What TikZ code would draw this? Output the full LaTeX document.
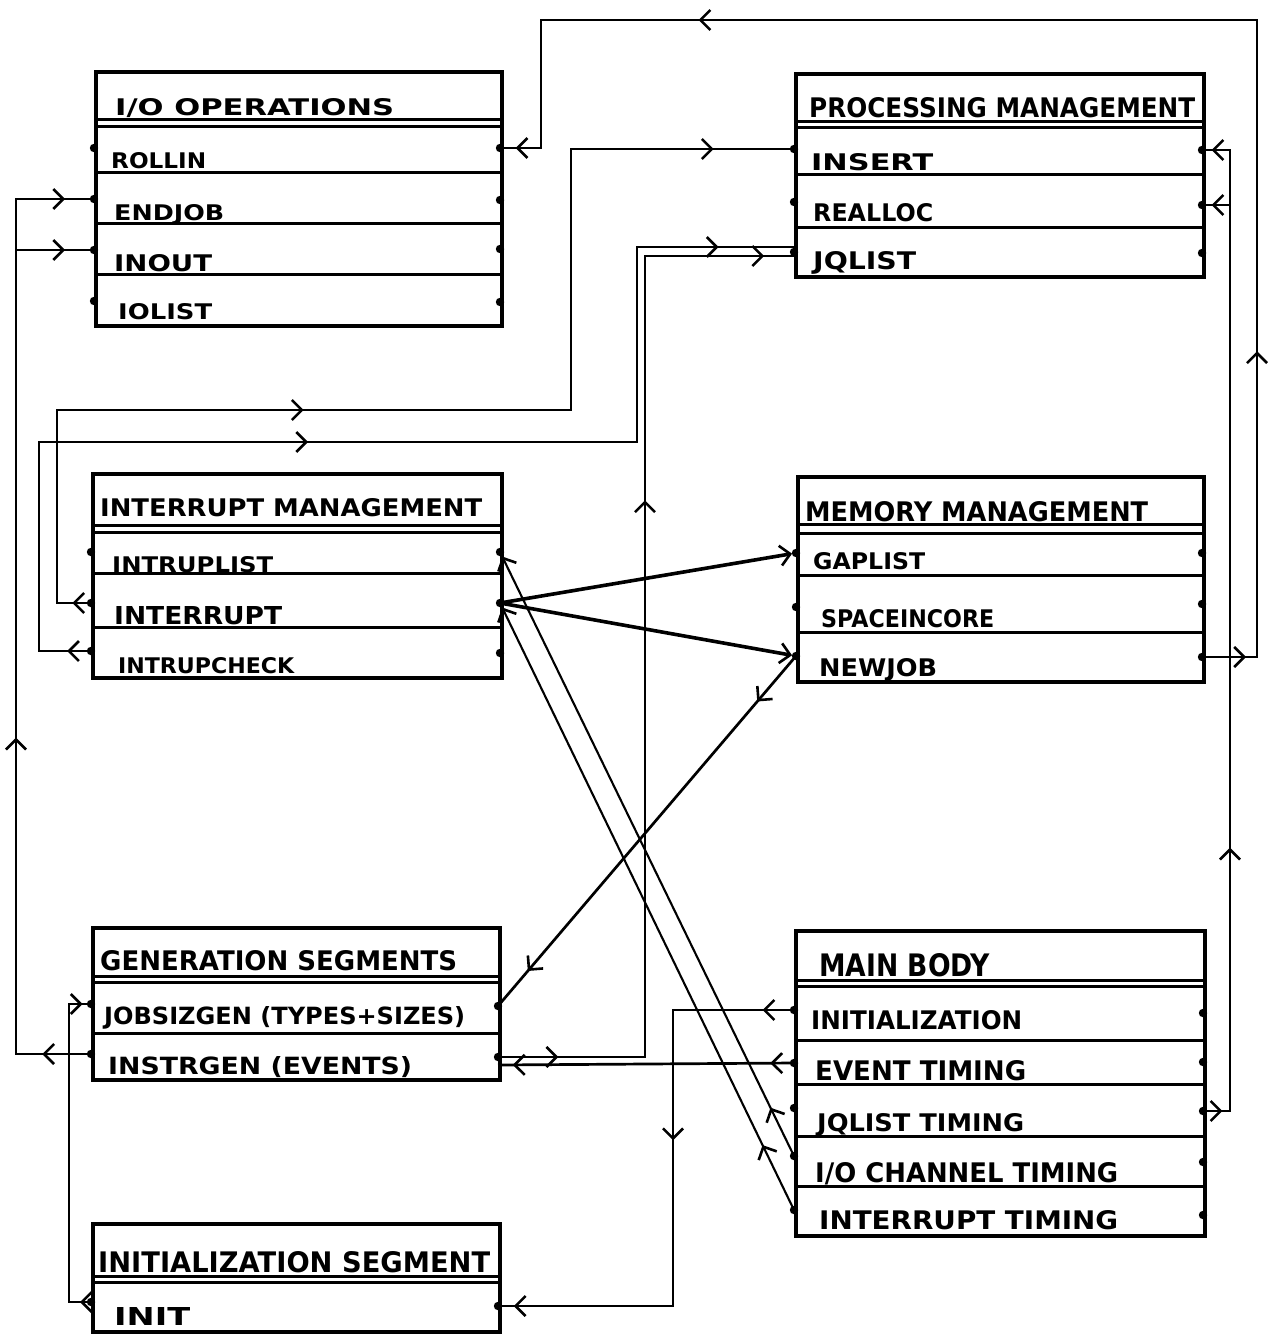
\documentclass[tikz,border=0pt]{standalone}
\usepackage{graphicx}
\usepackage{fontspec}
\setmainfont{DejaVu Sans}
\usetikzlibrary{arrows.meta,decorations.markings}

% label stretched to a given width and cap height, set on its baseline
\newcommand\lbl[6]{\node[lbl] (#1) at (#2,#3) {\resizebox{#4pt}{#5pt}{\bfseries #6}};}

\begin{document}
\begin{tikzpicture}[x=1pt,y=-1pt,
  box/.style={draw, line width=3.6pt, inner sep=0pt, anchor=north west},
  rule/.style={line width=3pt},
  conn/.style={line width=2.7pt},
  heavy/.style={line width=3.6pt},
  fine/.style={line width=2.1pt},
  lbl/.style={inner sep=0pt, anchor=base west},
  barb/.tip={Straight Barb[length=10pt,width=20pt,line width=2.6pt]},
  tip/.style={postaction={decorate,decoration={markings,mark=at position #1 with {\arrow{barb}}}}},
]
\fill[white] (0,0) rectangle (1277,1334);
\useasboundingbox (0,0) rectangle (1277,1334);

% ---------------- boxes ----------------
\node[box, minimum width=406pt, minimum height=254pt] (io) at (94,70) {};
\node[box, minimum width=408pt, minimum height=203pt] (pm) at (794,72) {};
\node[box, minimum width=409pt, minimum height=204pt] (im) at (91,472) {};
\node[box, minimum width=406pt, minimum height=205pt] (mm) at (796,475) {};
\node[box, minimum width=407pt, minimum height=152pt] (gs) at (91,926) {};
\node[box, minimum width=407pt, minimum height=108pt] (is) at (91,1222) {};
\node[box, minimum width=409pt, minimum height=305pt] (mb) at (794,929) {};

% title double rules and row dividers
\foreach \y in {119,126} \draw[rule] (94,\y) -- (500,\y);
\foreach \y in {172,223,274} \draw[rule] (94,\y) -- (500,\y);
\foreach \y in {121,127} \draw[rule] (794,\y) -- (1202,\y);
\foreach \y in {174,227} \draw[rule] (794,\y) -- (1202,\y);
\foreach \y in {525,532} \draw[rule] (91,\y) -- (500,\y);
\foreach \y in {573,627} \draw[rule] (91,\y) -- (500,\y);
\foreach \y in {524,533} \draw[rule] (796,\y) -- (1202,\y);
\foreach \y in {575,632} \draw[rule] (796,\y) -- (1202,\y);
\foreach \y in {976,982} \draw[rule] (91,\y) -- (498,\y);
\draw[rule] (91,1033) -- (498,1033);
\foreach \y in {1276,1282} \draw[rule] (91,\y) -- (498,\y);
\foreach \y in {980,986} \draw[rule] (794,\y) -- (1203,\y);
\foreach \y in {1040,1084,1136,1186} \draw[rule] (794,\y) -- (1203,\y);

% ---------------- labels ----------------
\lbl{io-t}{115}{115}{279}{17}{I/O OPERATIONS}
\lbl{io-r1}{111}{168}{95}{16}{ROLLIN}
\lbl{io-r2}{114}{220}{110}{16}{ENDJOB}
\lbl{io-r3}{114}{271}{98}{17}{INOUT}
\lbl{io-r4}{118}{319}{94}{16}{IOLIST}

\lbl{pm-t}{809}{117}{386}{20}{PROCESSING MANAGEMENT}
\lbl{pm-r1}{811}{170}{122}{17}{INSERT}
\lbl{pm-r2}{813}{221}{120}{18}{REALLOC}
\lbl{pm-r3}{813}{269}{103}{18}{JQLIST}

\lbl{im-t}{100}{516}{382}{18}{INTERRUPT MANAGEMENT}
\lbl{im-r1}{112}{572}{161}{16}{INTRUPLIST}
\lbl{im-r2}{114}{624}{168}{18}{INTERRUPT}
\lbl{im-r3}{118}{673}{176}{16}{INTRUPCHECK}

\lbl{mm-t}{805}{521}{343}{20}{MEMORY MANAGEMENT}
\lbl{mm-r1}{813}{569}{112}{17}{GAPLIST}
\lbl{mm-r2}{821}{627}{173}{18}{SPACEINCORE}
\lbl{mm-r3}{819}{676}{118}{18}{NEWJOB}

\lbl{gs-t}{100}{970}{357}{20}{GENERATION SEGMENTS}
\lbl{gs-r1}{104}{1024}{361}{18}{JOBSIZGEN (TYPES+SIZES)}
\lbl{gs-r2}{108}{1074}{304}{18}{INSTRGEN (EVENTS)}

\lbl{is-t}{98}{1272}{392}{21}{INITIALIZATION SEGMENT}
\lbl{is-r1}{114}{1325}{76}{18}{INIT}

\lbl{mb-t}{819}{976}{171}{23}{MAIN BODY}
\lbl{mb-r1}{811}{1029}{211}{19}{INITIALIZATION}
\lbl{mb-r2}{815}{1080}{211}{20}{EVENT TIMING}
\lbl{mb-r3}{817}{1131}{207}{18}{JQLIST TIMING}
\lbl{mb-r4}{815}{1182}{303}{20}{I/O CHANNEL TIMING}
\lbl{mb-r5}{819}{1229}{299}{19}{INTERRUPT TIMING}

% ---------------- ports ----------------
\coordinate (io-rollin-w) at (94,148);  \coordinate (io-rollin-e) at (500,148);
\coordinate (io-endjob-w) at (94,199);  \coordinate (io-endjob-e) at (500,200);
\coordinate (io-inout-w) at (94,250);   \coordinate (io-inout-e) at (500,249);
\coordinate (io-iolist-w) at (94,301);  \coordinate (io-iolist-e) at (500,302);
\coordinate (pm-insert-w) at (794,149); \coordinate (pm-insert-e) at (1202,150);
\coordinate (pm-realloc-w) at (794,202);\coordinate (pm-realloc-e) at (1202,205);
\coordinate (pm-jqlist-w) at (794,252); \coordinate (pm-jqlist-e) at (1202,253);
\coordinate (pm-jqlist-w1) at (794,247);\coordinate (pm-jqlist-w2) at (794,256);
\coordinate (im-intruplist-w) at (91,552);  \coordinate (im-intruplist-e) at (500,552);
\coordinate (im-interrupt-w) at (91,603);   \coordinate (im-interrupt-e) at (500,603);
\coordinate (im-intrupcheck-w) at (91,651); \coordinate (im-intrupcheck-e) at (500,653);
\coordinate (mm-gaplist-w) at (796,553);    \coordinate (mm-gaplist-e) at (1202,553);
\coordinate (mm-spaceincore-w) at (796,607);\coordinate (mm-spaceincore-e) at (1202,604);
\coordinate (mm-newjob-w) at (796,656);     \coordinate (mm-newjob-e) at (1202,657);
\coordinate (gs-jobsizgen-w) at (91,1004);  \coordinate (gs-jobsizgen-e) at (498,1006);
\coordinate (gs-instrgen-w) at (91,1054);   \coordinate (gs-instrgen-e) at (498,1057);
\coordinate (gs-instrgen-e2) at (498,1065);
\coordinate (is-init-w) at (91,1302);       \coordinate (is-init-e) at (498,1306);
\coordinate (mb-init-w) at (794,1010);      \coordinate (mb-init-e) at (1203,1013);
\coordinate (mb-event-w) at (794,1063);     \coordinate (mb-event-e) at (1203,1062);
\coordinate (mb-jqlist-w) at (794,1108);    \coordinate (mb-jqlist-e) at (1203,1111);
\coordinate (mb-iochan-w) at (794,1156);    \coordinate (mb-iochan-e) at (1203,1162);
\coordinate (mb-intr-w) at (794,1210);      \coordinate (mb-intr-e) at (1203,1215);

\foreach \p in {io-rollin,io-endjob,io-inout,io-iolist,pm-insert,pm-realloc,pm-jqlist,
  im-intruplist,im-interrupt,im-intrupcheck,mm-gaplist,mm-spaceincore,mm-newjob,
  gs-jobsizgen,gs-instrgen,is-init,mb-init,mb-event,mb-jqlist,mb-iochan,mb-intr}
  {\fill (\p-w) circle (4.2pt); \fill (\p-e) circle (4.2pt);}

% ---------------- connectors ----------------
% NEWJOB -> ROLLIN, round the top
\coordinate (c1a) at (1257,657); \coordinate (c1b) at (1257,20);
\coordinate (c1c) at (541,20);   \coordinate (c1d) at (541,148);
\draw[conn] (mm-newjob-e) -- (c1a) -- (c1b) -- (c1c) -- (c1d) -- (io-rollin-e);
\path[tip=0.8] (mm-newjob-e) -- (c1a);
\path[tip=0.48] (c1a) -- (c1b);
\path[tip=0.78] (c1b) -- (c1c);
\path[tip=0.62] (c1d) -- (io-rollin-e);

% JQLIST TIMING -> INSERT, REALLOC
\coordinate (c2a) at (1230,1111); \coordinate (c2b) at (1230,150); \coordinate (c2c) at (1230,205);
\draw[conn] (mb-jqlist-e) -- (c2a) -- (c2b) -- (pm-insert-e);
\draw[conn] (c2c) -- (pm-realloc-e);
\path[tip=0.72] (mb-jqlist-e) -- (c2a);
\path[tip=0.274] (c2a) -- (c2b);
\path[tip=0.66] (c2b) -- (pm-insert-e);
\path[tip=0.66] (c2c) -- (pm-realloc-e);

% INTERRUPT -> INSERT
\coordinate (c3a) at (57,603); \coordinate (c3b) at (57,410);
\coordinate (c3c) at (571,410); \coordinate (c3d) at (571,149);
\draw[conn] (im-interrupt-w) -- (c3a) -- (c3b) -- (c3c) -- (c3d) -- (pm-insert-w);
\path[tip=0.55] (im-interrupt-w) -- (c3a);
\path[tip=0.48] (c3b) -- (c3c);
\path[tip=0.64] (c3d) -- (pm-insert-w);

% INTRUPCHECK -> JQLIST
\coordinate (c4a) at (39,651); \coordinate (c4b) at (39,442);
\coordinate (c4c) at (637,442); \coordinate (c4d) at (637,247);
\draw[conn] (im-intrupcheck-w) -- (c4a) -- (c4b) -- (c4c) -- (c4d) -- (pm-jqlist-w1);
\path[tip=0.46] (im-intrupcheck-w) -- (c4a);
\path[tip=0.45] (c4b) -- (c4c);
\path[tip=0.52] (c4d) -- (pm-jqlist-w1);

% INSTRGEN -> JQLIST
\coordinate (c5a) at (645,1057); \coordinate (c5b) at (645,256);
\draw[conn] (gs-instrgen-e) -- (c5a) -- (c5b) -- (pm-jqlist-w2);
\path[tip=0.41] (gs-instrgen-e) -- (c5a);
\path[tip=0.695] (c5a) -- (c5b);
\path[tip=0.8] (c5b) -- (pm-jqlist-w2);

% INTERRUPT -> GAPLIST, NEWJOB
\draw[heavy,-barb,shorten >=4pt] (im-interrupt-e) -- (mm-gaplist-w);
\draw[heavy,-barb,shorten >=4pt] (im-interrupt-e) -- (mm-newjob-w);

% NEWJOB -> JOBSIZGEN
\draw[conn,tip=0.13,tip=0.9] (mm-newjob-w) -- (gs-jobsizgen-e);

% I/O CHANNEL TIMING -> INTRUPLIST, INTERRUPT TIMING -> INTERRUPT
\draw[fine,tip=0.08,-barb,shorten >=5pt] (mb-iochan-w) -- (im-intruplist-e);
\draw[fine,tip=0.107,-barb,shorten >=5pt] (mb-intr-w) -- (im-interrupt-e);

% INITIALIZATION -> INIT
\coordinate (c11a) at (673,1010); \coordinate (c11b) at (673,1306);
\draw[conn] (mb-init-w) -- (c11a) -- (c11b) -- (is-init-e);
\path[tip=0.26] (mb-init-w) -- (c11a);
\path[tip=0.44] (c11a) -- (c11b);
\path[tip=0.91] (c11b) -- (is-init-e);

% EVENT TIMING -> INSTRGEN
\draw[conn,tip=0.08,tip=0.95] (mb-event-w) -- (gs-instrgen-e2);

% INSTRGEN -> ENDJOB, INOUT
\coordinate (c13a) at (16,1054); \coordinate (c13b) at (16,199); \coordinate (c13c) at (16,250);
\draw[conn] (gs-instrgen-w) -- (c13a) -- (c13b) -- (io-endjob-w);
\draw[conn] (c13c) -- (io-inout-w);
\path[tip=0.65] (gs-instrgen-w) -- (c13a);
\path[tip=0.37] (c13a) -- (c13b);
\path[tip=0.63] (c13b) -- (io-endjob-w);
\path[tip=0.63] (c13c) -- (io-inout-w);

% INIT -> JOBSIZGEN
\coordinate (c14a) at (69,1302); \coordinate (c14b) at (69,1004);
\draw[conn] (is-init-w) -- (c14a) -- (c14b) -- (gs-jobsizgen-w);
\path[tip=0.5] (is-init-w) -- (c14a);
\path[tip=0.62] (c14b) -- (gs-jobsizgen-w);
\end{tikzpicture}
\end{document}
